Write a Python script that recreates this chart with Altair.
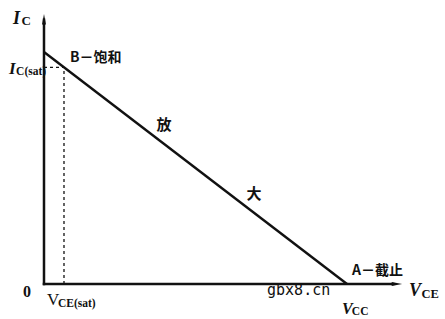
import altair as alt
import pandas as pd

# ---- data (units: V_CC = 10, I_C at V_CE = 0 is 10) ----
load_vce = [0.0, 10.0]
load_ic = [10.0, 0.0]
sat_vce = 0.66
sat_ic = 9.34
vce_axis_end = 11.82
ic_axis_end = 11.64

X_DOMAIN = [-1.452, 13.234]
Y_DOMAIN = [-1.509, 12.241]
W, H = 445, 319
INK = "#111111"
SERIF = "Liberation Serif"
CJK = "Noto Sans CJK SC"

xs = alt.Scale(domain=X_DOMAIN, nice=False, zero=False)
ys = alt.Scale(domain=Y_DOMAIN, nice=False, zero=False)


def X(f="v"):
    return alt.X(f"{f}:Q", scale=xs, axis=None)


def Y(f="i"):
    return alt.Y(f"{f}:Q", scale=ys, axis=None)


layers = []

# axes lines
y_axis = pd.DataFrame({"v": [0.0], "i": [0.0], "i2": [ic_axis_end - 0.25]})
x_axis = pd.DataFrame({"v": [0.0], "v2": [vce_axis_end - 0.3], "i": [0.0]})
layers.append(alt.Chart(y_axis).mark_rule(color=INK, strokeWidth=2.5, strokeCap="square").encode(
    x=X(), y=Y(), y2="i2:Q"))
layers.append(alt.Chart(x_axis).mark_rule(color=INK, strokeWidth=2.5, strokeCap="square").encode(
    x=X(), x2="v2:Q", y=Y()))

# arrow heads
up = pd.DataFrame({"v": [0.0], "i": [ic_axis_end]})
right = pd.DataFrame({"v": [vce_axis_end], "i": [0.0]})
layers.append(alt.Chart(up).mark_point(shape="M0,0L-0.38,2L0.38,2Z", filled=True, size=110,
                                       color=INK, opacity=1).encode(x=X(), y=Y()))
layers.append(alt.Chart(right).mark_point(shape="M0,0L-2,-0.36L-2,0.36Z", filled=True, size=110,
                                          color=INK, opacity=1).encode(x=X(), y=Y()))

# load line
load = pd.DataFrame({"v": load_vce, "i": load_ic})
layers.append(alt.Chart(load).mark_line(color=INK, strokeWidth=2.4).encode(x=X(), y=Y()))

# saturation guides (dotted)
hdash = pd.DataFrame({"v": [0.0], "v2": [sat_vce], "i": [sat_ic]})
vdash = pd.DataFrame({"v": [sat_vce], "i": [0.0], "i2": [sat_ic]})
layers.append(alt.Chart(hdash).mark_rule(color=INK, strokeWidth=1.3, strokeDash=[3, 3]).encode(
    x=X(), x2="v2:Q", y=Y()))
layers.append(alt.Chart(vdash).mark_rule(color=INK, strokeWidth=1.3, strokeDash=[3, 3]).encode(
    x=X(), y=Y(), y2="i2:Q"))


def label(v, i, text, **props):
    df = pd.DataFrame({"v": [v], "i": [i], "t": [text]})
    base = dict(color=INK, align="left", baseline="alphabetic")
    base.update(props)
    return alt.Chart(df).mark_text(**base).encode(x=X(), y=Y(), text="t:N")


# I_C axis title
layers.append(label(-1.023, 11.207, "I", font=SERIF, fontSize=18, fontStyle="italic", fontWeight="bold"))
layers.append(label(-0.74, 11.17, "C", font=SERIF, fontSize=13, fontWeight="bold"))
# I_C(sat)
layers.append(label(-1.155, 9.052, "I", font=SERIF, fontSize=17, fontStyle="italic", fontWeight="bold"))
layers.append(label(-0.92, 9.009, "C(sat)", font=SERIF, fontSize=11.5, fontWeight="bold"))
# origin
layers.append(label(-0.561, -0.56, "0", font=SERIF, fontSize=16, align="center", fontWeight="bold"))
# V_CE(sat)
layers.append(label(0.099, -0.905, "V", font=SERIF, fontSize=17))
layers.append(label(0.462, -0.991, "CE(sat)", font=SERIF, fontSize=11.5, fontWeight="bold"))
# V_CE axis title
layers.append(label(12.046, -0.517, "V", font=SERIF, fontSize=18, fontStyle="italic", fontWeight="bold"))
layers.append(label(12.46, -0.603, "CE", font=SERIF, fontSize=12.5, fontWeight="bold"))
# V_CC
layers.append(label(9.835, -1.28, "V", font=SERIF, fontSize=16, fontStyle="italic", fontWeight="bold"))
layers.append(label(10.16, -1.33, "CC", font=SERIF, fontSize=11.5, fontWeight="bold"))
# region labels
layers.append(label(0.858, 9.741, "B－饱和", font=CJK, fontSize=14, baseline="middle", fontWeight="bold"))
layers.append(label(3.96, 6.853, "放", font=CJK, fontSize=15, align="center", baseline="middle", fontWeight="bold"))
layers.append(label(6.931, 3.879, "大", font=CJK, fontSize=15, align="center", baseline="middle", fontWeight="bold"))
layers.append(label(10.165, 0.56, "A－截止", font=CJK, fontSize=14, baseline="middle", fontWeight="bold"))
# watermark
layers.append(label(7.36, -0.259, "gbx8.cn", font="DejaVu Sans Mono", fontSize=15, baseline="middle"))

chart = alt.layer(*layers).properties(
    width=W, height=H,
    autosize=alt.AutoSizeParams(type="none"),
    padding=0,
    background="white",
).configure_view(stroke=None)

chart.save("out.html", embed_options={"renderer": "svg", "actions": False})
